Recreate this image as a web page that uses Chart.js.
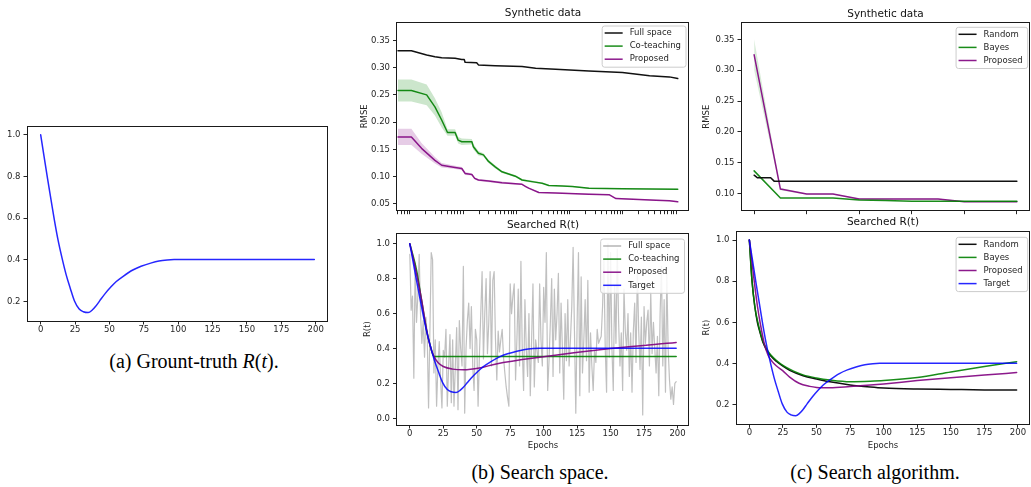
<!DOCTYPE html>
<html>
<head>
<meta charset="utf-8">
<script src="https://cdn.jsdelivr.net/npm/chart.js@4.4.1/dist/chart.umd.min.js"></script>
<style>
html,body{margin:0;padding:0;background:#fff;}
#fig{position:relative;width:1031px;height:487px;overflow:hidden;background:#fff;}
#fig canvas{position:absolute;}
.cap{position:absolute;font-family:"Liberation Serif","Times New Roman",serif;font-size:20px;line-height:22px;color:#000;white-space:nowrap;transform:translate(-50%,-50%);}
</style>
</head>
<body>
<div id="fig">
<canvas id="cA"></canvas>
<canvas id="cB1"></canvas>
<canvas id="cB2"></canvas>
<canvas id="cC1"></canvas>
<canvas id="cC2"></canvas>
<div class="cap" style="left:194px;top:361px">(a) Grount-truth <i>R</i>(<i>t</i>).</div>
<div class="cap" style="left:540px;top:472px">(b) Search space.</div>
<div class="cap" style="left:875px;top:472px">(c) Search algorithm.</div>
</div>
<script>
// ================= DATA =================
// Ground-truth / target R(t)
const targetEpochs = [0,2.5,5,7.5,10,12.5,15.5,18.5,21.5,24.5,28,31,34.5,37.5,40,43,47,51,55,60,67,73,80,86,92,97,120,160,199];
const targetR      = [1.0,0.895,0.79,0.69,0.59,0.50,0.41,0.33,0.265,0.205,0.165,0.152,0.148,0.16,0.178,0.205,0.24,0.27,0.297,0.322,0.352,0.37,0.385,0.395,0.40,0.402,0.402,0.402,0.402];

// (b) top: RMSE vs number of searched configurations (log x)
const fullSpaceIter = [0.6,1.07,2.07,2.96,3.96,7.07,9.45,10.5,10.9,18,19.4,40,128,230,545,2300,9800,31600,74500,107000];
const fullSpaceRMSE = [0.331,0.331,0.323,0.320,0.318,0.317,0.315,0.315,0.310,0.309,0.305,0.3035,0.302,0.299,0.297,0.294,0.291,0.285,0.283,0.280];

const coTeachIter = [0.6,1.07,2.07,2.96,3.96,5.1,7.07,8.1,9.45,14.6,15.6,19.4,24.1,30,40,53.7,71.6,95.7,128,197,305,407,728,1122,2300,9800,107000];
const coTeachRMSE = [0.258,0.258,0.250,0.228,0.204,0.181,0.181,0.167,0.164,0.164,0.155,0.143,0.140,0.128,0.118,0.109,0.105,0.101,0.094,0.091,0.088,0.084,0.083,0.082,0.079,0.078,0.077];
const coTeachSD   = [0.020,0.020,0.019,0.016,0.014,0.006,0.006,0.006,0.006,0.005,0.005,0.004,0.003,0.003,0.003,0.002,0.002,0.002,0.002,0.002,0.001,0.001,0.001,0.001,0.001,0.001,0.001];

const propBIter = [0.6,1.07,1.66,2.96,3.96,7.07,9.45,10.9,14.6,16.5,19.4,30,53.7,128,150,170,264,545,2300,5500,7400,41800,74500,107000];
const propBRMSE = [0.173,0.173,0.152,0.130,0.121,0.117,0.115,0.106,0.104,0.097,0.094,0.092,0.089,0.086,0.082,0.079,0.071,0.070,0.068,0.067,0.060,0.057,0.056,0.054];
const propBSD   = [0.015,0.015,0.010,0.006,0.004,0.003,0.003,0.003,0.002,0.002,0.002,0.002,0.002,0.001,0.001,0.001,0.001,0.001,0.001,0.001,0.001,0.001,0.001,0.001];

// (b) bottom: searched R(t)
const fullSpaceR = [
0.94,0.62,0.70,0.23,0.89,0.55,0.70,0.94,0.60,0.43, 0.56,0.35,0.58,0.47,0.06,0.50,0.95,0.91,0.26,0.45,
0.07,0.30,0.44,0.22,0.06,0.39,0.35,0.51,0.07,0.30, 0.48,0.09,0.45,0.07,0.30,0.52,0.05,0.56,0.40,0.30,
0.87,0.03,0.40,0.56,0.66,0.40,0.64,0.30,0.16,0.51, 0.45,0.07,0.36,0.60,0.84,0.34,0.60,0.80,0.37,0.55,
0.84,0.30,0.79,0.84,0.45,0.22,0.50,0.38,0.45,0.51, 0.35,0.26,0.18,0.12,0.07,0.77,0.60,0.70,0.77,0.22,
0.45,0.74,0.30,0.90,0.40,0.16,0.68,0.40,0.24,0.60, 0.13,0.45,0.77,0.18,0.45,0.39,0.32,0.77,0.45,0.30,
0.75,0.55,0.95,0.16,0.33,0.55,0.80,0.24,0.74,0.45, 0.60,0.83,0.26,0.66,0.40,0.11,0.60,0.33,0.68,0.30,
0.45,0.64,0.98,0.50,0.03,0.55,0.95,0.13,0.81,0.26, 0.45,0.68,0.33,0.79,0.15,0.49,0.30,0.16,0.39,0.32,
0.51,0.43,0.45,0.47,0.64,0.91,0.40,0.15,1.00,0.35, 0.95,0.40,0.16,0.76,0.43,0.97,0.55,0.30,0.49,0.16,
0.74,0.50,0.39,0.60,0.24,0.49,0.15,0.50,0.66,0.32, 0.85,0.50,0.28,0.58,0.02,0.64,0.43,0.55,0.62,0.30,
0.72,0.37,0.55,0.40,0.26,0.47,0.13,0.60,0.87,0.30, 0.68,0.15,0.83,0.40,0.22,0.11,0.18,0.08,0.20,0.21];
const coTeachEpochs = [0,5,8.7,12.4,15.5,18,199];
const coTeachR      = [1.0,0.85,0.68,0.51,0.41,0.355,0.355];
const propBEpochs = [0,3,6,9,12,15,18,21,25,32,40,52,64.5,100,150,199];
const propBR      = [1.0,0.90,0.79,0.67,0.53,0.42,0.355,0.32,0.297,0.282,0.278,0.288,0.312,0.353,0.40,0.435];

// (c) top: RMSE vs search iteration
const randomIter = [0,0.13,0.63,0.76,10];
const randomRMSE = [0.130,0.1258,0.1258,0.1204,0.1204];
const bayesIter  = [0,1,2,3,4,5,6,7,8,9,10];
const bayesRMSE  = [0.137,0.093,0.093,0.093,0.090,0.089,0.088,0.088,0.088,0.088,0.088];
const propCIter  = [0,1,2,3,4,5,6,7,8,9,10];
const propCRMSE  = [0.325,0.1075,0.0995,0.0995,0.0914,0.0914,0.0914,0.0914,0.087,0.087,0.087];
const propCSD    = [0.025,0.002,0.001,0.001,0.001,0.001,0.001,0.001,0.001,0.001,0.001];

// (c) bottom: searched R(t)
const randomEpochs = [0,1,2,4,6,8,10,13,16,20,25,30,40,50,60,75,90,100,125,150,175,199];
const randomR      = [1.0,0.90,0.80,0.68,0.60,0.55,0.505,0.465,0.437,0.412,0.388,0.368,0.342,0.326,0.312,0.297,0.287,0.282,0.277,0.275,0.273,0.272];
const bayesEpochs  = [0,1,2,4,6,8,10,13,16,20,25,30,40,50,60,75,90,100,125,150,175,199];
const bayesR       = [1.0,0.89,0.80,0.68,0.61,0.555,0.51,0.47,0.442,0.417,0.392,0.374,0.346,0.331,0.321,0.313,0.315,0.318,0.333,0.36,0.386,0.41];
const propCEpochs  = [0,2,4,6,8,11,14,17,20,25,30,37,45,50,60,75,100,125,150,175,199];
const propCR       = [1.0,0.89,0.78,0.68,0.60,0.50,0.44,0.41,0.39,0.365,0.335,0.305,0.29,0.285,0.283,0.289,0.302,0.318,0.332,0.345,0.357];

// ticks
const epochTicks = [0,25,50,75,100,125,150,175,200];
const rTicksA    = [0.2,0.4,0.6,0.8,1.0];
const rTicksB    = [0.0,0.2,0.4,0.6,0.8,1.0];
const rmseTicksB = [0.05,0.10,0.15,0.20,0.25,0.30,0.35];
const rmseTicksC = [0.10,0.15,0.20,0.25,0.30,0.35];
const iterTicksC = [0,2,4,6,8,10];
const logTicksB = [];
for (let k = -1; k <= 5; k++) for (let m = 1; m <= 9; m++) { const v = m * Math.pow(10, k); if (v >= 0.56 && v <= 177000) logTicksB.push(v); }

// ================= HELPERS =================
const FONT = "'DejaVu Sans', sans-serif";
const TXT = '#262626';
Chart.defaults.font.family = FONT;
Chart.defaults.color = TXT;

const C_BLACK = '#111111', C_GREEN = 'rgba(0,128,0,0.9)', C_PURPLE = 'rgba(128,0,128,0.9)', C_BLUE = 'rgba(0,0,255,0.85)', C_GRAY = 'rgba(150,150,150,0.6)';

const pts = (xs, ys) => xs.map((x, i) => ({x: x, y: ys[i]}));
const band = (xs, ys, sd, sign) => xs.map((x, i) => ({x: x, y: ys[i] + sign * sd[i]}));

const mplPlugin = {
  id: 'mpl',
  afterDatasetsDraw(chart, args, o) {
    const ctx = chart.ctx, ca = chart.chartArea;
    ctx.save();
    // spines
    ctx.strokeStyle = '#1a1a1a';
    ctx.lineWidth = 1;
    const l = Math.floor(ca.left) + 0.5, r = Math.floor(ca.right) - 0.5, t = Math.floor(ca.top) + 0.5, b = Math.floor(ca.bottom) + 0.5;
    ctx.strokeRect(l, t, r - l, b - t);
    // title
    if (o.title) {
      ctx.fillStyle = '#111';
      ctx.font = "10.5px " + FONT;
      ctx.textAlign = 'center';
      ctx.textBaseline = 'middle';
      ctx.fillText(o.title, (ca.left + ca.right) / 2, ca.top - 8.5);
    }
    // legend
    if (o.legend) {
      const items = o.legend.items;
      ctx.font = "8.5px " + FONT;
      let tw = 0;
      items.forEach(it => { tw = Math.max(tw, ctx.measureText(it.label).width); });
      const w = 2.5 + 18 + 7 + tw + 5;
      const h = 7 + (items.length - 1) * 13.1 + 8;
      const x = ca.right - o.legend.dx - w, y = ca.top + o.legend.dy;
      ctx.beginPath();
      const rr = 2.5;
      ctx.moveTo(x + rr, y); ctx.lineTo(x + w - rr, y); ctx.quadraticCurveTo(x + w, y, x + w, y + rr);
      ctx.lineTo(x + w, y + h - rr); ctx.quadraticCurveTo(x + w, y + h, x + w - rr, y + h);
      ctx.lineTo(x + rr, y + h); ctx.quadraticCurveTo(x, y + h, x, y + h - rr);
      ctx.lineTo(x, y + rr); ctx.quadraticCurveTo(x, y, x + rr, y);
      ctx.closePath();
      ctx.fillStyle = 'rgba(255,255,255,0.85)';
      ctx.fill();
      ctx.strokeStyle = '#cccccc';
      ctx.lineWidth = 1;
      ctx.stroke();
      items.forEach((it, i) => {
        const cy = y + 7 + i * 13.1;
        ctx.strokeStyle = it.color;
        ctx.lineWidth = 1.5;
        ctx.beginPath(); ctx.moveTo(x + 2.5, cy); ctx.lineTo(x + 20.5, cy); ctx.stroke();
        ctx.fillStyle = TXT;
        ctx.textAlign = 'left';
        ctx.textBaseline = 'middle';
        ctx.fillText(it.label, x + 27.5, cy);
      });
    }
    ctx.restore();
  }
};

function makeChart(id, g, cfg) {
  const cv = document.getElementById(id);
  cv.width = g.w; cv.height = g.h;
  cv.style.left = g.x + 'px'; cv.style.top = g.y + 'px';
  cv.style.width = g.w + 'px'; cv.style.height = g.h + 'px';
  const axisW = g.L - g.x, axisH = g.y + g.h - g.B, padTop = g.T - g.y, padRight = g.x + g.w - g.R;
  const tickFont = {family: FONT, size: 8.5};
  const gridOpt = {display: true, drawOnChartArea: false, drawTicks: true, tickLength: 3.5, tickColor: '#262626', tickWidth: 1};
  const zeroPad = s => { s.paddingLeft = 0; s.paddingRight = 0; s.paddingTop = 0; s.paddingBottom = 0; };
  return new Chart(cv, {
    type: 'line',
    data: {datasets: cfg.datasets},
    options: {
      responsive: false, maintainAspectRatio: false, animation: false, devicePixelRatio: 1,
      events: [],
      layout: {padding: {left: 0, top: padTop, right: padRight, bottom: 0}},
      elements: {point: {radius: 0, hoverRadius: 0}, line: {borderJoinStyle: 'round', borderCapStyle: 'round'}},
      plugins: {legend: {display: false}, tooltip: {enabled: false}, title: {display: false}, mpl: cfg.mpl},
      scales: {
        x: {
          type: cfg.xType || 'linear', min: cfg.xMin, max: cfg.xMax, position: 'bottom',
          afterFit: s => { s.height = axisH; zeroPad(s); },
          afterBuildTicks: s => { s.ticks = cfg.xTicks.map(v => ({value: v})); },
          grid: gridOpt, border: {display: false},
          ticks: {display: !!cfg.xLabels, font: tickFont, color: TXT, padding: 0, maxRotation: 0, minRotation: 0, autoSkip: false, callback: v => String(v)},
          title: {display: !!cfg.xTitle, text: cfg.xTitle || '', font: {family: FONT, size: 8.5}, color: TXT, padding: {top: 0, bottom: 4.2}}
        },
        y: {
          type: 'linear', min: cfg.yMin, max: cfg.yMax, position: 'left',
          afterFit: s => { s.width = axisW; zeroPad(s); },
          afterBuildTicks: s => { s.ticks = cfg.yTicks.map(v => ({value: v})); },
          grid: gridOpt, border: {display: false},
          ticks: {display: true, font: tickFont, color: TXT, padding: 3, autoSkip: false, callback: v => Number(v).toFixed(cfg.yDigits)},
          title: {display: !!cfg.yTitle, text: cfg.yTitle || '', font: {family: FONT, size: 8.5}, color: TXT, padding: {top: cfg.yTitlePad || 0, bottom: 0}}
        }
      }
    },
    plugins: [mplPlugin]
  });
}

const lineDs = (label, data, color, order, extra) => Object.assign({label: label, data: data, borderColor: color, backgroundColor: color, borderWidth: 1.5, fill: false, tension: 0, order: order}, extra || {});
const mono = {cubicInterpolationMode: 'monotone'};

// ================= (a) =================
makeChart('cA', {x: 0, y: 110, w: 340, h: 235, L: 27, T: 126, R: 328, B: 321}, {
  datasets: [lineDs('Target', pts(targetEpochs, targetR), C_BLUE, 0, mono)],
  xMin: -9.95, xMax: 208.95, xTicks: epochTicks, xLabels: true,
  yMin: 0.1075, yMax: 1.0425, yTicks: rTicksA, yDigits: 1,
  mpl: {}
});

// ================= (b) top =================
makeChart('cB1', {x: 355, y: 0, w: 343, h: 215, L: 396.5, T: 22, R: 689.5, B: 210.7}, {
  datasets: [
    lineDs('Full space', pts(fullSpaceIter, fullSpaceRMSE), C_BLACK, 0),
    lineDs('Co-teaching', pts(coTeachIter, coTeachRMSE), C_GREEN, 0),
    lineDs('Proposed', pts(propBIter, propBRMSE), C_PURPLE, 0),
    {label: '_coU', data: band(coTeachIter, coTeachRMSE, coTeachSD, 1), borderWidth: 0, borderColor: 'rgba(0,0,0,0)', backgroundColor: 'rgba(0,128,0,0.2)', fill: '+1', order: 10},
    {label: '_coL', data: band(coTeachIter, coTeachRMSE, coTeachSD, -1), borderWidth: 0, borderColor: 'rgba(0,0,0,0)', fill: false, order: 10},
    {label: '_prU', data: band(propBIter, propBRMSE, propBSD, 1), borderWidth: 0, borderColor: 'rgba(0,0,0,0)', backgroundColor: 'rgba(128,0,128,0.2)', fill: '+1', order: 10},
    {label: '_prL', data: band(propBIter, propBRMSE, propBSD, -1), borderWidth: 0, borderColor: 'rgba(0,0,0,0)', fill: false, order: 10}
  ],
  xType: 'logarithmic', xMin: Math.pow(10, -0.25), xMax: Math.pow(10, 5.25), xTicks: logTicksB, xLabels: false,
  yMin: 0.0377, yMax: 0.3836, yTicks: rmseTicksB, yDigits: 2, yTitle: 'RMSE', yTitlePad: 4.9,
  mpl: {title: 'Synthetic data', legend: {dx: 3.5, dy: 4, items: [
    {label: 'Full space', color: C_BLACK}, {label: 'Co-teaching', color: C_GREEN}, {label: 'Proposed', color: C_PURPLE}]}}
});

// ================= (b) bottom =================
makeChart('cB2', {x: 355, y: 215, w: 343, h: 240, L: 396.5, T: 233.3, R: 689.5, B: 425}, {
  datasets: [
    lineDs('Target', pts(targetEpochs, targetR), C_BLUE, 0, mono),
    lineDs('Proposed', pts(propBEpochs, propBR), C_PURPLE, 1, mono),
    lineDs('Co-teaching', pts(coTeachEpochs, coTeachR), C_GREEN, 2, mono),
    lineDs('Full space', fullSpaceR.map((v, i) => ({x: i, y: v})), C_GRAY, 3, {borderWidth: 1.2})
  ],
  xMin: -9.95, xMax: 208.95, xTicks: epochTicks, xLabels: true, xTitle: 'Epochs',
  yMin: -0.038, yMax: 1.06, yTicks: rTicksB, yDigits: 1, yTitle: 'R(t)', yTitlePad: 7.9,
  mpl: {title: 'Searched R(t)', legend: {dx: 5, dy: 5.7, items: [
    {label: 'Full space', color: 'rgba(150,150,150,0.7)'}, {label: 'Co-teaching', color: C_GREEN}, {label: 'Proposed', color: C_PURPLE}, {label: 'Target', color: C_BLUE}]}}
});

// ================= (c) top =================
makeChart('cC1', {x: 700, y: 0, w: 331, h: 215, L: 741, T: 22.7, R: 1030, B: 210.7}, {
  datasets: [
    lineDs('Random', pts(randomIter, randomRMSE), C_BLACK, 0),
    lineDs('Bayes', pts(bayesIter, bayesRMSE), C_GREEN, 0),
    lineDs('Proposed', pts(propCIter, propCRMSE), C_PURPLE, 0),
    {label: '_pcU', data: band(propCIter, propCRMSE, propCSD, 1), borderWidth: 0, borderColor: 'rgba(0,0,0,0)', backgroundColor: 'rgba(0,128,0,0.15)', fill: '+1', order: 10},
    {label: '_pcL', data: band(propCIter, propCRMSE, propCSD, -1), borderWidth: 0, borderColor: 'rgba(0,0,0,0)', fill: false, order: 10}
  ],
  xMin: -0.5, xMax: 10.5, xTicks: iterTicksC, xLabels: false,
  yMin: 0.0725, yMax: 0.377, yTicks: rmseTicksC, yDigits: 2, yTitle: 'RMSE', yTitlePad: 1.6,
  mpl: {title: 'Synthetic data', legend: {dx: 2.3, dy: 4.6, items: [
    {label: 'Random', color: C_BLACK}, {label: 'Bayes', color: C_GREEN}, {label: 'Proposed', color: C_PURPLE}]}}
});

// ================= (c) bottom =================
makeChart('cC2', {x: 700, y: 215, w: 331, h: 240, L: 736, T: 231, R: 1030, B: 424.3}, {
  datasets: [
    lineDs('Target', pts(targetEpochs, targetR), C_BLUE, 0, mono),
    lineDs('Proposed', pts(propCEpochs, propCR), C_PURPLE, 1, mono),
    lineDs('Bayes', pts(bayesEpochs, bayesR), C_GREEN, 2, mono),
    lineDs('Random', pts(randomEpochs, randomR), C_BLACK, 3, mono)
  ],
  xMin: -9.95, xMax: 208.95, xTicks: epochTicks, xLabels: true, xTitle: 'Epochs',
  yMin: 0.106, yMax: 1.044, yTicks: rTicksA, yDigits: 1, yTitle: 'R(t)', yTitlePad: 1.6,
  mpl: {title: 'Searched R(t)', legend: {dx: 2.3, dy: 6.3, items: [
    {label: 'Random', color: C_BLACK}, {label: 'Bayes', color: C_GREEN}, {label: 'Proposed', color: C_PURPLE}, {label: 'Target', color: C_BLUE}]}}
});
</script>
</body>
</html>
